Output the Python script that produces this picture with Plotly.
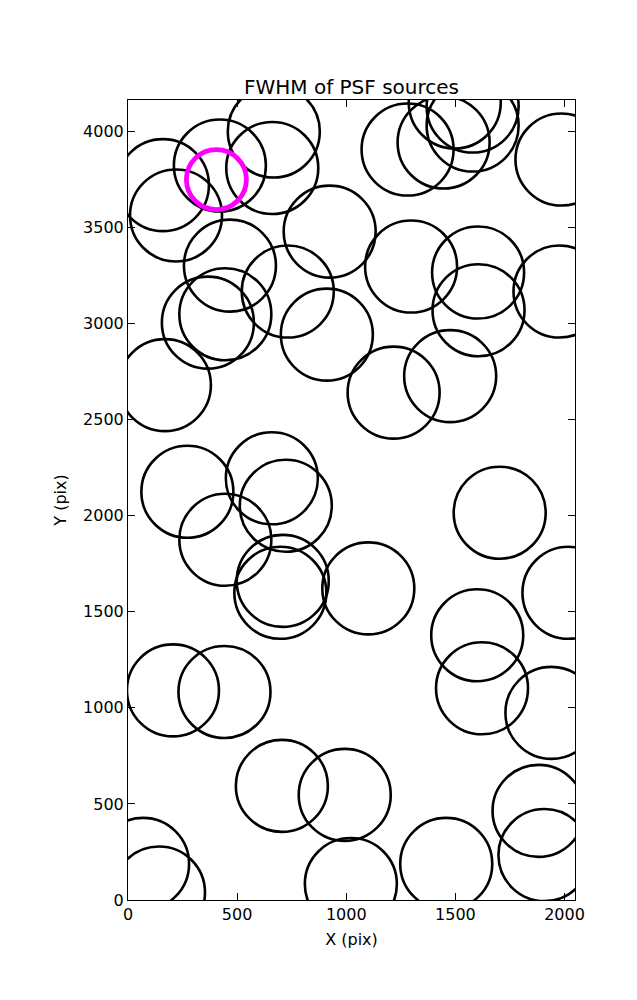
import plotly.graph_objects as go

# Source centers (pixels in detector coordinates)
src_x = [160, 220, 421, 668, 661, 467, 366, 446, 732, 924, 911, 169, 1217, 1476,
         1281, 1446, 1497, 1579, 1579, 1986, 1297, 1604, 1606, 1977,
         272, 659, 723, 446, 709, 698, 1101, 1703, 2018, 1600, 1622,
         206, 442, 1940, 705, 993, 1881, 69, 142, 1021, 1458, 1908]
src_y = [3721, 3563, 3823, 4000, 3810, 3302, 3005, 3049, 3167, 3479, 2943, 2680, 2641, 2727,
         3906, 3943, 4151, 4130, 4031, 3854, 3297, 3266, 3070, 3167,
         2125, 2195, 2052, 1875, 1661, 1599, 1622, 2016, 1599, 1378, 1102,
         1091, 1083, 974, 594, 547, 464, 188, 39, 83, 188, 234]

# Highlighted source
hl_x = [405]
hl_y = [3750]

x_ticks = [0, 500, 1000, 1500, 2000]
y_ticks = [0, 500, 1000, 1500, 2000, 2500, 3000, 3500, 4000]

font = "DejaVu Sans"

fig = go.Figure()
fig.add_trace(go.Scatter(
    x=src_x, y=src_y, mode="markers", cliponaxis=True,
    marker=dict(symbol="circle-open", size=92, color="black",
                line=dict(width=2.6, color="black")),
    hoverinfo="x+y", showlegend=False))
fig.add_trace(go.Scatter(
    x=hl_x, y=hl_y, mode="markers", cliponaxis=True,
    marker=dict(symbol="circle-open", size=60, color="#ff00ff",
                line=dict(width=4.8, color="#ff00ff")),
    showlegend=False))

axis_common = dict(showgrid=False, zeroline=False, showline=True, linecolor="black",
                   linewidth=1, mirror="allticks", ticks="inside", ticklen=7,
                   tickcolor="black", tickwidth=1, automargin=False,
                   tickfont=dict(family=font, size=16, color="black"))

fig.update_xaxes(range=[0, 2048], tickvals=x_ticks, ticktext=[str(v) for v in x_ticks],
                 title=dict(text="X (pix)", font=dict(family=font, size=16, color="black"), standoff=10),
                 **axis_common)
fig.update_yaxes(range=[0, 4164], tickvals=y_ticks, ticktext=[str(v) for v in y_ticks],
                 title=dict(text="Y (pix)", font=dict(family=font, size=16, color="black"), standoff=12),
                 **axis_common)

fig.update_layout(
    width=629, height=992,
    margin=dict(l=120, r=62, t=92, b=100),
    paper_bgcolor="white", plot_bgcolor="white",
    title=dict(text="FWHM of PSF sources", x=0.5, xref="paper", xanchor="center",
               y=1, yref="paper", yanchor="bottom", pad=dict(b=6),
               font=dict(family=font, size=20, color="black")),
    font=dict(family=font),
)

fig.write_html("out.html")
